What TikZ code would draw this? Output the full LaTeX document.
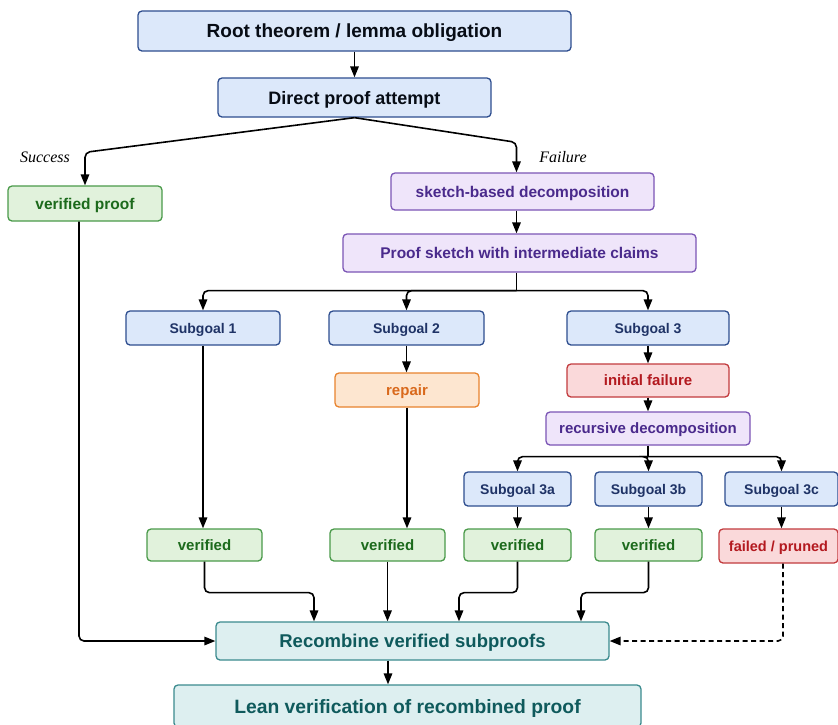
\documentclass[tikz,border=0pt]{standalone}
\usepackage{fontspec}
\setmainfont{Liberation Sans}
\newfontfamily\lblfont{Liberation Serif}
\usetikzlibrary{arrows.meta}

\definecolor{bluefill}{HTML}{DCE8FA}
\definecolor{blueline}{HTML}{2E4E8F}
\definecolor{bluetext}{HTML}{1F3366}
\definecolor{greenfill}{HTML}{E1F2DC}
\definecolor{greenline}{HTML}{4A9A4A}
\definecolor{greentext}{HTML}{1C6A1C}
\definecolor{purplefill}{HTML}{EFE5FA}
\definecolor{purpleline}{HTML}{7B55B5}
\definecolor{purpletext}{HTML}{4A2A8C}
\definecolor{orangefill}{HTML}{FDE6D0}
\definecolor{orangeline}{HTML}{E8832E}
\definecolor{orangetext}{HTML}{D9691C}
\definecolor{redfill}{HTML}{FAD9DA}
\definecolor{redline}{HTML}{C23B3E}
\definecolor{redtext}{HTML}{B3191F}
\definecolor{tealfill}{HTML}{DDEFF0}
\definecolor{tealline}{HTML}{3B8B8E}
\definecolor{tealtext}{HTML}{0F5A5C}

\newcommand{\fsz}[1]{\fontsize{#1}{#1}\selectfont\bfseries}

\tikzset{
  box/.style={draw, rounded corners=4pt, line width=1.3pt, inner sep=0pt, text depth=0pt, align=center},
  bluebox/.style={box, fill=bluefill, draw=blueline, text=bluetext},
  greenbox/.style={box, fill=greenfill, draw=greenline, text=greentext},
  purplebox/.style={box, fill=purplefill, draw=purpleline, text=purpletext},
  orangebox/.style={box, fill=orangefill, draw=orangeline, text=orangetext},
  redbox/.style={box, fill=redfill, draw=redline, text=redtext},
  tealbox/.style={box, fill=tealfill, draw=tealline, text=tealtext},
  arr/.style={line width=1.6pt, -{Triangle[length=11pt,width=8.5pt]}, rounded corners=5pt},
  lbl/.style={font=\lblfont\itshape\fontsize{16}{16}\selectfont}
}

\begin{document}
\begin{tikzpicture}[x=1pt,y=-1pt]

	\def\sgh{34}
	\def\vh{32}

	\useasboundingbox[fill=white] (0,0) rectangle (838,724);

	\node[bluebox, text=black!85!blueline, font=\fsz{19}, minimum width=433pt, minimum height=40pt] (root) at (354.5,31) {Root theorem / lemma obligation};
	\node[bluebox, text=black!85!blueline, font=\fsz{18}, minimum width=273pt, minimum height=39pt] (direct) at (354.5,97.5) {Direct proof attempt};

	\node[greenbox, font=\fsz{15.5}, minimum width=154pt, minimum height=35pt] (vproof) at (85,203.5) {verified proof};
	\node[purplebox, font=\fsz{15.5}, minimum width=263pt, minimum height=37pt] (sketch) at (522.5,191.5) {sketch-based decomposition};
	\node[purplebox, font=\fsz{15.5}, minimum width=353pt, minimum height=38pt] (proofsk) at (519.5,253) {Proof sketch with intermediate claims};

	\node[lbl] (succ) at (45,157) {Success};
	\node[lbl] (fail lbl) at (563,157) {Failure};

	\node[bluebox, font=\fsz{14}, minimum width=154pt, minimum height=\sgh pt] (sg1) at (203,328) {Subgoal 1};
	\node[bluebox, font=\fsz{14}, minimum width=155pt, minimum height=\sgh pt] (sg2) at (406.5,328) {Subgoal 2};
	\node[bluebox, font=\fsz{14}, minimum width=162pt, minimum height=\sgh pt] (sg3) at (648,328) {Subgoal 3};

	\node[orangebox, font=\fsz{15}, minimum width=144pt, minimum height=34pt] (repair) at (407,390) {repair};
	\node[redbox, font=\fsz{15}, minimum width=162pt, minimum height=33pt] (init) at (648,380.5) {initial failure};
	\node[purplebox, font=\fsz{15}, minimum width=204pt, minimum height=33pt] (recur) at (648,428.5) {recursive decomposition};

	\node[bluebox, font=\fsz{14}, minimum width=107pt, minimum height=\sgh pt] (sg3a) at (517.5,489) {Subgoal 3a};
	\node[bluebox, font=\fsz{14}, minimum width=107pt, minimum height=\sgh pt] (sg3b) at (648.5,489) {Subgoal 3b};
	\node[bluebox, font=\fsz{14}, minimum width=113pt, minimum height=\sgh pt] (sg3c) at (781.5,489) {Subgoal 3c};

	\node[greenbox, font=\fsz{15}, minimum width=115pt, minimum height=\vh pt] (v1) at (204.5,545) {verified};
	\node[greenbox, font=\fsz{15}, minimum width=115pt, minimum height=\vh pt] (v2) at (387.5,545) {verified};
	\node[greenbox, font=\fsz{15}, minimum width=107pt, minimum height=\vh pt] (v3a) at (517.5,545) {verified};
	\node[greenbox, font=\fsz{15}, minimum width=107pt, minimum height=\vh pt] (v3b) at (648.5,545) {verified};
	\node[redbox, font=\fsz{14.5}, minimum width=119pt, minimum height=34pt] (fail) at (778.5,546) {failed / pruned};

	\node[tealbox, font=\fsz{18.5}, minimum width=393pt, minimum height=38pt] (rec) at (412.5,641) {Recombine verified subproofs};
	\node[tealbox, font=\fsz{19.3}, minimum width=467pt, minimum height=42pt] (lean) at (407.5,706) {Lean verification of recombined proof};

	\draw[arr] (root) -- (direct);
	\draw[arr] (direct.south) -- ([yshift=33pt]vproof.north) -- (vproof.north);
	\draw[arr] (direct.south) -- ([xshift=-6pt,yshift=30pt]sketch.north) -- ([xshift=-6pt]sketch.north);
	\draw[arr] ([xshift=-6pt]sketch.south) -- ([xshift=-6pt]sketch.south |- proofsk.north);

	\draw[line width=1.6pt] ([xshift=-3pt]proofsk.south) -- ++(0,18) coordinate (bus1);
	\draw[arr] (bus1) -| (sg1.north);
	\draw[arr] (bus1) -| (sg2.north);
	\draw[arr] (bus1) -| (sg3.north);

	\draw[arr] (sg1.south) -- (sg1.south |- v1.north);
	\draw[arr] (sg2.south) -- (sg2.south |- repair.north);
	\draw[arr] (repair.south) -- (repair.south |- v2.north);
	\draw[arr] (sg3) -- (init);
	\draw[arr] (init) -- (recur);

	\draw[line width=1.6pt] (recur.south) -- ++(0,11) coordinate (bus2);
	\draw[arr] (bus2) -| (sg3a.north);
	\draw[arr] (bus2) -| (sg3b.north);
	\draw[arr] (bus2) -| (sg3c.north);

	\draw[arr] (sg3a) -- (v3a);
	\draw[arr] (sg3b) -- (v3b);
	\draw[arr] (sg3c.south) -- (sg3c.south |- fail.north);

	\draw[arr] (v1.south) -- ++(0,31) -| ([xshift=-98.5pt]rec.north);
	\draw[arr] (v2.south) -- (v2.south |- rec.north);
	\draw[arr] (v3a.south) -- ++(0,31) -| ([xshift=46.5pt]rec.north);
	\draw[arr] (v3b.south) -- ++(0,31) -| ([xshift=168.5pt]rec.north);
	\draw[arr, dash pattern=on 5pt off 3.5pt] ([xshift=4.5pt]fail.south) |- (rec.east);
	\draw[arr] ([xshift=-6pt]vproof.south) |- (rec.west);

	\draw[arr] ([xshift=-24.5pt]rec.south) -- ([xshift=-24.5pt]rec.south |- lean.north);
\end{tikzpicture}
\end{document}
